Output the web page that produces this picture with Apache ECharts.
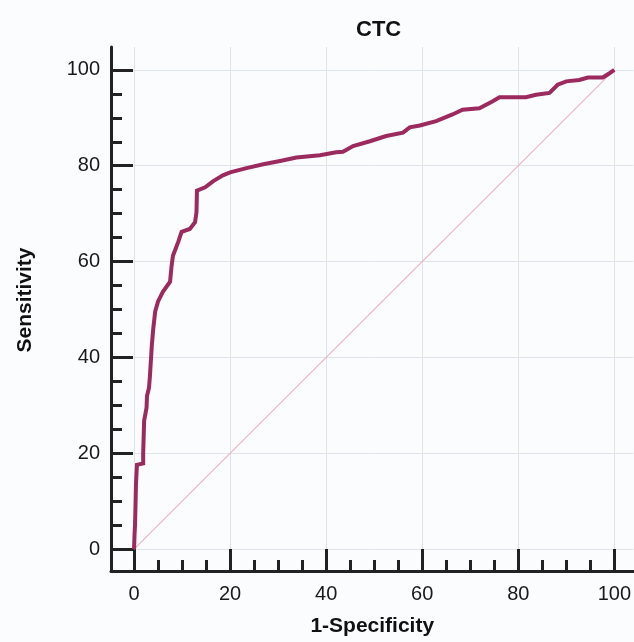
<!DOCTYPE html>
<html>
<head>
<meta charset="utf-8">
<script src="https://cdn.jsdelivr.net/npm/echarts@6/dist/echarts.min.js"></script>
<style>
html,body{margin:0;padding:0;background:#fbfcfe;}
#chart{width:634px;height:642px;}
</style>
</head>
<body>
<div id="chart"></div>
<script>
// ROC curve: 1-Specificity (x) vs Sensitivity (y), in %
const fpr = [0,0.1,0.2,0.3,0.4,0.6,1.9,1.9,2.1,2.6,2.7,3.1,3.3,3.7,4.0,4.4,5.0,6.0,7.5,7.8,8.1,9.2,9.9,11.6,12.7,13.0,13.1,14.8,16.5,18.5,20,23.4,26.9,30.4,33.8,38.7,42.1,43.5,45.6,49.1,52.5,56,57.4,59.5,62.9,66.3,68.4,71.9,74.6,76.1,81.6,83.7,86.5,88.2,90,92.7,94.5,97.6,99,100];
const tpr = [0,3,5,9,13.5,17.6,17.9,20,26.8,29.5,32,33.6,36,42.5,46,49.6,51.7,53.7,55.8,59,61.2,64.1,66.2,66.8,68.2,70.3,74.8,75.5,76.8,78,78.6,79.5,80.3,81,81.7,82.2,82.8,82.9,84.1,85.1,86.2,86.9,88,88.4,89.3,90.7,91.7,92,93.4,94.3,94.3,94.8,95.2,96.9,97.6,97.9,98.4,98.4,99.3,100];
const refX = [0,100];
const refY = [0,100];
const majorTicks = [0,20,40,60,80,100];
const minorTicks = [5,10,15,25,30,35,45,50,55,65,70,75,85,90,95];
const titleText = 'CTC';
const xName = '1-Specificity';
const yName = 'Sensitivity';

const curve = fpr.map((x,i)=>[x,tpr[i]]);
const diag = refX.map((x,i)=>[x,refY[i]]);
const axisColor = '#222';
const font = 'Liberation Sans, Arial, Helvetica, sans-serif';

const chart = echarts.init(document.getElementById('chart'), null, {renderer:'canvas'});
chart.setOption({
  backgroundColor:'#fbfcfe',
  animation:false,
  title:{text:titleText,left:351,top:14,textStyle:{fontFamily:font,fontWeight:'bold',fontSize:22,color:'#111'}},
  grid:{left:111,right:0,top:47,bottom:68,containLabel:false},
  xAxis:[{
    type:'value',position:'bottom',min:-4.8,max:104,
    name:xName,nameLocation:'middle',nameGap:45,
    nameTextStyle:{fontFamily:font,fontWeight:'bold',fontSize:21,color:'#111'},
    axisLine:{show:true,onZero:false,lineStyle:{color:axisColor,width:3}},
    axisTick:{show:true,inside:true,length:22,customValues:majorTicks,lineStyle:{color:axisColor,width:3}},
    axisLabel:{customValues:majorTicks,margin:13,fontFamily:font,fontSize:20,color:'#1a1a1a'},
    splitLine:{show:true,lineStyle:{color:'#dde4ec',width:1}}
  },{
    type:'value',position:'bottom',min:-4.8,max:104,
    axisLine:{show:false,onZero:false},
    axisTick:{show:true,inside:true,length:11,customValues:minorTicks,lineStyle:{color:axisColor,width:3}},
    axisLabel:{show:false},splitLine:{show:false}
  }],
  yAxis:[{
    type:'value',position:'left',min:-4.56,max:104.77,
    name:yName,nameLocation:'middle',nameGap:75,
    nameTextStyle:{fontFamily:font,fontWeight:'bold',fontSize:21,color:'#111',padding:[0,0,0,18]},
    axisLine:{show:true,onZero:false,lineStyle:{color:axisColor,width:3}},
    axisTick:{show:true,inside:true,length:22,customValues:majorTicks,lineStyle:{color:axisColor,width:3}},
    axisLabel:{customValues:majorTicks,margin:11,fontFamily:font,fontSize:20,color:'#1a1a1a'},
    splitLine:{show:true,lineStyle:{color:'#dde4ec',width:1}}
  },{
    type:'value',position:'left',min:-4.56,max:104.77,
    axisLine:{show:false,onZero:false},
    axisTick:{show:true,inside:true,length:11,customValues:minorTicks,lineStyle:{color:axisColor,width:3}},
    axisLabel:{show:false},splitLine:{show:false}
  }],
  series:[{
    type:'line',data:diag,xAxisIndex:0,yAxisIndex:0,symbol:'none',silent:true,
    lineStyle:{color:'#e8b7c0',width:1.2}
  },{
    type:'line',data:curve,xAxisIndex:0,yAxisIndex:0,symbol:'none',
    lineStyle:{color:'#9b2a5f',width:4,join:'miter'}
  }]
});
</script>
</body>
</html>
